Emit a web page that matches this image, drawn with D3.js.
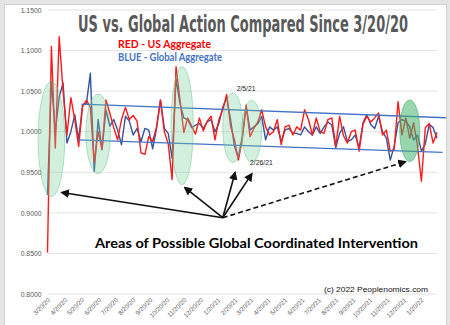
<!DOCTYPE html>
<html><head><meta charset="utf-8">
<script src="https://cdn.jsdelivr.net/npm/d3@7"></script>
<style>html,body{margin:0;padding:0;background:#fff}svg{display:block}</style>
</head><body>
<script>
// ---- data ----
const startDate = new Date(2020, 2, 20);
const weeksCount = 101;
const usAggregate = [0.851,1.105,0.980,1.117,1.050,0.996,1.042,1.015,0.982,1.031,1.039,1.030,0.962,1.000,0.978,1.039,1.023,1.005,0.990,1.015,1.030,1.015,
 1.020,1.013,0.974,0.972,0.994,0.988,1.006,1.039,1.000,0.985,0.941,1.080,1.040,0.999,1.017,1.007,0.997,1.017,1.001,1.013,1.019,0.990,1.015,1.027,1.046,1.007,0.990,0.965,
 0.990,1.033,0.994,1.004,1.012,1.027,1.006,0.996,1.000,1.015,0.984,1.006,1.008,0.996,1.006,1.002,1.027,1.015,0.996,1.017,1.000,0.998,1.015,1.017,
 0.982,1.019,0.995,0.986,1.000,1.002,0.976,1.009,1.019,1.012,1.017,1.023,0.996,1.002,0.976,0.978,1.037,0.996,1.017,0.992,1.011,0.982,0.939,1.005,1.010,0.986,0.999];
const globalAggregate = [0.922,1.062,1.000,1.043,1.060,0.986,1.000,1.021,0.990,1.033,1.035,1.072,0.951,1.015,0.978,1.027,1.007,1.015,1.002,0.984,1.019,1.013,0.996,1.004,
 0.988,1.004,1.002,0.979,1.004,1.039,1.004,0.998,0.967,1.065,1.035,1.017,1.015,1.005,1.008,1.010,1.004,1.012,1.015,1.000,1.010,1.030,1.042,1.015,
 0.982,0.968,0.994,1.031,1.002,1.006,1.010,1.019,0.990,1.006,1.002,1.006,0.988,1.002,1.004,0.998,0.998,0.996,1.006,1.000,0.996,1.006,0.998,1.006,1.012,1.008,
 0.980,0.998,1.006,0.988,0.990,0.996,0.980,1.011,1.021,1.009,1.004,1.019,1.000,0.992,0.965,0.982,1.011,1.015,1.013,1.006,0.990,0.996,0.976,0.985,1.009,1.005,0.992];
const yTickValues = [0.80,0.85,0.90,0.95,1.00,1.05,1.10,1.15];
const xTickMonths = 23; // 3/20/20 ... 1/20/22
// trend channel lines [date, value]
const upperTrend = [["2020-05-20",1.034],["2022-03-06",1.0172]];
const lowerTrend = [["2020-05-14",0.990],["2022-02-28",0.9746]];
// highlighted areas: center date, center value, half-width days, half-height value
const areas = [
 {c:"2020-03-27", v:0.991, dx:24, dv:0.071, dark:false},
 {c:"2020-06-19", v:0.9975, dx:22, dv:0.049, dark:false},
 {c:"2020-11-17", v:1.0074, dx:20, dv:0.0727, dark:false},
 {c:"2021-02-16", v:1.005, dx:18, dv:0.043, dark:false},
 {c:"2021-03-22", v:1.0006, dx:18, dv:0.038, dark:false},
 {c:"2021-12-31", v:1.0012, dx:18, dv:0.038, dark:true}
];
const arrowOrigin = ["2021-01-29", 0.894];
const arrowTargets = [
 {d:"2020-04-15", v:0.925, dashed:false},
 {d:"2020-11-22", v:0.931, dashed:false},
 {d:"2021-02-20", v:0.9495, dashed:false},
 {d:"2021-03-22", v:0.948, dashed:false},
 {d:"2021-12-23", v:0.963, dashed:true}
];
const dateNotes = [{t:"2/5/21", d:"2021-02-23", v:1.0496},{t:"2/26/21", d:"2021-03-19", v:0.9587}];

// ---- chart ----
const W = 450, H = 325;
const parse = d3.timeParse("%Y-%m-%d");
const dates = d3.range(weeksCount).map(i => d3.timeDay.offset(startDate, 7*i));
const endDate = dates[dates.length-1];
const x = d3.scaleTime().domain([startDate, endDate]).range([47.5, 437]);
const y = d3.scaleLinear().domain([0.80, 1.15]).range([294, 10]);

const svg = d3.select("body").append("svg").attr("width", W).attr("height", H);
svg.append("rect").attr("width", W).attr("height", H).attr("fill", "#e4e4e4");
svg.append("rect").attr("x", 4.5).attr("y", 4.5).attr("width", 442).attr("height", 325)
  .attr("fill", "#fff").attr("stroke", "#d0d0d0").attr("stroke-width", 1);

// gridlines
svg.append("g").selectAll("line").data(yTickValues).join("line")
  .attr("x1", 47.5).attr("x2", 437).attr("y1", d => y(d)).attr("y2", d => y(d))
  .attr("stroke", "#e3e3e3").attr("stroke-width", 1);

// y labels
const yAxis = d3.axisLeft(y).tickValues(yTickValues).tickFormat(d3.format(".4f")).tickSize(0).tickPadding(6);
const gy = svg.append("g").attr("transform", "translate(47.5,0)").call(yAxis);
gy.select(".domain").remove();
gy.selectAll("text").attr("fill", "#595959").style("font", "6.8px 'Liberation Sans', Arial, sans-serif");

// x labels
const xTicks = d3.range(xTickMonths).map(m => new Date(2020, 2 + m, 20));
const fmt = d3.timeFormat("%-m/%-d/%y");
svg.append("g").selectAll("text").data(xTicks).join("text")
  .attr("transform", d => `translate(${x(d)+1.5},299) rotate(-45)`)
  .attr("text-anchor", "end").attr("dy", "0.35em")
  .attr("fill", "#595959").style("font", "6.3px 'Liberation Sans', Arial, sans-serif")
  .text(d => fmt(d));

// title (condensed look: narrow font stretched vertically)
svg.append("text").attr("transform", "translate(78,31.5) scale(1,1.6)")
  .attr("textLength", 330).attr("lengthAdjust", "spacingAndGlyphs")
  .attr("fill", "#595959").style("font", "bold 14px 'DejaVu Sans Condensed', 'DejaVu Sans', sans-serif")
  .text("US vs. Global Action Compared Since 3/20/20");

// legend text
svg.append("text").attr("x", 118).attr("y", 47.5).attr("textLength", 93).attr("lengthAdjust", "spacingAndGlyphs")
  .attr("fill", "#ff0000").style("font", "bold 10.5px Lato, 'Open Sans', sans-serif").text("RED - US Aggregate");
svg.append("text").attr("x", 118).attr("y", 61).attr("textLength", 104).attr("lengthAdjust", "spacingAndGlyphs")
  .attr("fill", "#4472c4").style("font", "bold 10.5px Lato, 'Open Sans', sans-serif").text("BLUE - Global Aggregate");

// series
const line = d3.line().x((d, i) => x(dates[i])).y(d => y(d));
svg.append("path").datum(globalAggregate).attr("d", line).attr("fill", "none")
  .attr("stroke", "#34539c").attr("stroke-width", 1.4).attr("stroke-linejoin", "round");
svg.append("path").datum(usAggregate).attr("d", line).attr("fill", "none")
  .attr("stroke", "#ff1a1a").attr("stroke-width", 1.4).attr("stroke-linejoin", "round");

// trend channel
const tl = d3.line().x(d => x(parse(d[0]))).y(d => y(d[1]));
[upperTrend, lowerTrend].forEach(t => svg.append("path").datum(t).attr("d", tl)
  .attr("stroke", "#4472c4").attr("stroke-width", 1.3).attr("fill", "none"));

// ellipses
const dayPx = x(d3.timeDay.offset(startDate, 1)) - x(startDate);
svg.append("g").selectAll("ellipse").data(areas).join("ellipse")
  .attr("cx", d => x(parse(d.c))).attr("cy", d => y(d.v))
  .attr("rx", d => d.dx * dayPx).attr("ry", d => y(d.v - d.dv) - y(d.v))
  .attr("fill", d => d.dark ? "rgba(70,180,110,0.55)" : "rgba(120,205,155,0.33)")
  .attr("stroke", d => d.dark ? "rgba(60,170,100,0.7)" : "rgba(100,195,140,0.6)").attr("stroke-width", 0.8);

// arrows
const defs = svg.append("defs");
defs.append("marker").attr("id", "ah").attr("viewBox", "0 0 10 10").attr("refX", 8).attr("refY", 5)
  .attr("markerWidth", 5.5).attr("markerHeight", 5.5).attr("orient", "auto")
  .append("path").attr("d", "M0,0 L10,5 L0,10 z").attr("fill", "#111");
const ox = x(parse(arrowOrigin[0])), oy = y(arrowOrigin[1]);
svg.append("g").selectAll("line").data(arrowTargets).join("line")
  .attr("x1", ox).attr("y1", oy).attr("x2", d => x(parse(d.d))).attr("y2", d => y(d.v))
  .attr("stroke", "#111").attr("stroke-width", 1.6)
  .attr("stroke-dasharray", d => d.dashed ? "5,3" : null)
  .attr("marker-end", "url(#ah)");

// date notes
svg.append("g").selectAll("text").data(dateNotes).join("text")
  .attr("x", d => x(parse(d.d))).attr("y", d => y(d.v))
  .attr("fill", "#222").style("font", "6.8px 'Liberation Sans', Arial, sans-serif").text(d => d.t);

// caption
svg.append("text").attr("x", 95).attr("y", 248).attr("textLength", 323).attr("lengthAdjust", "spacingAndGlyphs")
  .attr("fill", "#000").style("font", "bold 14px Lato, 'Open Sans', sans-serif")
  .text("Areas of Possible Global Coordinated Intervention");
svg.append("text").attr("x", 324).attr("y", 292).attr("textLength", 104).attr("lengthAdjust", "spacingAndGlyphs")
  .attr("fill", "#111").style("font", "7.8px 'Liberation Sans', Arial, sans-serif")
  .text("(c) 2022  Peoplenomics.com");
</script>
</body></html>
